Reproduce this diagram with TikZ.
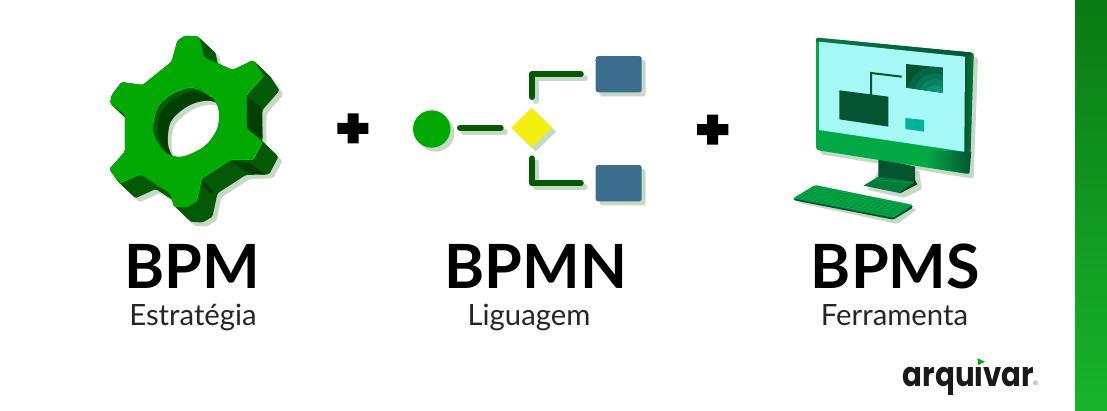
\documentclass[tikz,border=0pt]{standalone}
\usepackage{fontspec}
\setmainfont{Lato}
\newfontfamily\logofont{Poppins}
\usetikzlibrary{shapes.geometric,shadows,calc}
\definecolor{gface}{HTML}{02A902}
\definecolor{gedge}{HTML}{00D41C}
\definecolor{gdark}{HTML}{045A04}
\definecolor{gdeep}{HTML}{023F02}
\definecolor{pale}{HTML}{C6D9C6}
\definecolor{taskblue}{HTML}{3B6D8F}
\definecolor{gateyellow}{HTML}{F1F00E}
\definecolor{monmain}{HTML}{02A944}
\definecolor{monedge}{HTML}{077A3E}
\definecolor{mondark}{HTML}{045432}
\definecolor{screen}{HTML}{A5F8F6}
\definecolor{barA}{HTML}{0A7A14}
\definecolor{barB}{HTML}{17B42B}
\definecolor{tealO}{HTML}{056645}
\definecolor{tealA}{HTML}{067452}
\definecolor{tealB}{HTML}{088260}
\definecolor{tealC}{HTML}{0A9474}
\definecolor{tealD}{HTML}{00B39A}
\tikzset{
  title/.style={font=\bfseries\fontsize{61}{61}\selectfont,anchor=base,inner sep=0pt,text=black},
  subtitle/.style={font=\fontsize{29.3}{29.3}\selectfont,anchor=base,inner sep=0pt,text=black!85},
  softshadow/.style={general shadow={shadow xshift=4pt,shadow yshift=-4pt,fill=pale,opacity=1}},
  taskbox/.style={rectangle,rounded corners=2.5pt,fill=taskblue,minimum width=46pt,minimum height=36.3pt,inner sep=0pt,softshadow},
  gateway/.style={diamond,fill=gateyellow,minimum width=41pt,minimum height=40pt,inner sep=0pt,softshadow},
  startev/.style={circle,fill=gface,minimum size=37.4pt,inner sep=0pt,softshadow},
  conn/.style={line width=6pt,line cap=round,line join=round,draw=gdark},
  connshadow/.style={line width=6pt,line cap=round,line join=round,draw=pale,transform canvas={xshift=4pt,yshift=-4pt}},
  plusmark/.style={fill=black},
}
\def\gearpath{(262,62) -- (285,47) -- (328,50) -- (342,112) -- (428,150) -- (490,120) -- (521,167) -- (470,225) -- (470,325) -- (518,365) -- (490,418) -- (420,420) -- (335,475) -- (320,545) -- (290,563) -- (252,560) -- (240,520) -- (150,462) -- (88,490) -- (58,447) -- (105,395) -- (105,285) -- (60,250) -- (65,225) -- (95,186) -- (158,195) -- (245,125) -- cycle}
\def\holepath{plot[smooth cycle,tension=0.75] coordinates {(190,310) (215,245) (300,203) (365,232) (387,290) (365,355) (310,398) (250,408) (205,370)}}
\begin{document}
\begin{tikzpicture}[x=1pt,y=-1pt]
\useasboundingbox (0,0) rectangle (1107,410);
\fill[white] (0,0) rectangle (1107,410);
% side bar
\shade[top color=barA,bottom color=barB] (1075,0) rectangle (1107,410);

% gear
\begin{scope}[shift={(90,20)},x=0.3333pt,y=-0.3333pt]
  \begin{scope}[rounded corners=1.6pt]
    \foreach \i in {0,...,25} {
      \fill[pale,shift={({12+\i*1.9},{12+\i*1.8})}] \gearpath;
    }
    \foreach \i in {0,...,25} {
      \fill[gdark,shift={({\i*1.9},{\i*1.8})}] \gearpath;
    }
    \fill[gdeep] (473,232) -- (515,262) -- (518,360) -- (473,325) -- cycle;
    \fill[gdeep] (335,478) -- (372,515) -- (360,520) -- (335,495) -- cycle;
    \fill[gdeep] (420,420) -- (480,430) -- (530,465) -- (470,458) -- cycle;
  \end{scope}
  \begin{scope}
    \clip \holepath;
    \fill[gdark] (150,180) rectangle (420,430);
    \fill[gdeep,shift={(14,12)}] \holepath;
    \fill[pale,shift={(44,40)}] \holepath;
    \fill[white,shift={(55,52)}] \holepath;
  \end{scope}
  \fill[gface,even odd rule,rounded corners=1.6pt] \gearpath \holepath;
  \draw[gedge,line width=0.7pt] plot[smooth,tension=0.75] coordinates {(190,310) (215,245) (300,203) (365,232)};
  \draw[gedge,line width=0.6pt] (88,490) -- (150,462) (335,475) -- (420,420) -- (490,418) -- (518,365) (470,225) -- (521,167) (320,545) -- (335,475);
\end{scope}

% plus signs
\fill[plusmark] (347.5,113.3) rectangle (358.5,143.3) (337.3,122.8) rectangle (368.3,133.8);
\fill[plusmark] (707.2,114.7) rectangle (718.2,144.7) (697,124.2) rectangle (728.3,135.2);

% BPMN fragment
\node[startev] (start) at (431.7,129) {};
\node[gateway] (gate) at (531.7,127.7) {};
\node[taskbox] (taskA) at (618.7,74.2) {};
\node[taskbox] (taskB) at (618.7,183.2) {};
\coordinate (startOut) at (460,127.7);
\coordinate (gateIn) at (500.7,127.7);
\draw[connshadow] (startOut) -- (gateIn);
\draw[connshadow,shorten <=10.5pt,shorten >=14.7pt] (gate.north) |- (taskA.west);
\draw[connshadow,shorten <=10.5pt,shorten >=14.7pt] (gate.south) |- (taskB.west);
\draw[conn] (startOut) -- (gateIn);
\draw[conn,shorten <=10.5pt,shorten >=14.7pt] (gate.north) |- (taskA.west);
\draw[conn,shorten <=10.5pt,shorten >=14.7pt] (gate.south) |- (taskB.west);

% monitor
\begin{scope}[shift={(780,25)},x=0.3333pt,y=-0.3333pt]
  % shadows
  \begin{scope}[shift={(13,13)}]
    \fill[pale,rounded corners=3pt] (108,38) -- (581,83) -- (568,448) -- (108,375) -- cycle;
    \fill[pale] (295,400) -- (405,425) -- (412,480) -- (360,505) -- (250,482) -- cycle;
    \fill[pale,rounded corners=2pt] (40,520) -- (105,480) -- (398,540) -- (340,584) -- cycle;
  \end{scope}
  % stand
  \fill[mondark] (295,400) -- (405,425) -- (405,472) -- (295,458) -- cycle;
  \fill[gdeep] (360,505) -- (412,478) -- (405,465) -- (340,490) -- cycle;
  \fill[monedge] (250,482) -- (295,455) -- (405,470) -- (358,504) -- cycle;
  \draw[monmain,line width=0.5pt] (280,463) -- (400,475);
  % frame
  \fill[monmain,rounded corners=3pt] (108,38) -- (581,83) -- (568,448) -- (108,375) -- cycle;
  \shade[left color=monmain,right color=mondark] (440,375) -- (553,380) -- (574,380) -- (568,446) -- (440,426) -- cycle;
  \shade[left color=monedge,right color=mondark] (110,38) -- (578,83) -- (578,98) -- (108,50) -- cycle;
  \shade[left color=mondark,right color=monedge] (553,92) -- (581,86) -- (572,380) -- (552,385) -- cycle;
  % screen
  \fill[screen] (117,50) -- (555,95) -- (553,380) -- (117,315) -- cycle;
  \fill[mondark] (178,196) -- (325,215) -- (325,305) -- (178,283) -- cycle;
  \draw[mondark,line width=2pt] (273,210) -- (273,144) -- (365,155);
  \begin{scope}
    \clip (378,117) -- (489,128) -- (487,203) -- (378,188) -- cycle;
    \fill[mondark] (370,110) rectangle (495,210);
    \fill[tealO] (465,210) circle[radius=85];
    \fill[tealA] (465,210) circle[radius=65];
    \fill[tealB] (465,210) circle[radius=48];
    \fill[tealC] (465,210) circle[radius=30];
  \end{scope}
  \fill[tealD] (376,279) -- (432,285) -- (432,320) -- (376,312) -- cycle;
  % keyboard
  \fill[mondark,rounded corners=1.5pt] (40,520) -- (105,482) -- (398,540) -- (398,549) -- (340,584) -- (42,526) -- cycle;
  \fill[monmain,rounded corners=1.5pt] (40,520) -- (105,480) -- (398,540) -- (340,578) -- cycle;
  \foreach \t in {0.14,0.28,...,0.9} {
    \draw[monedge,line width=0.25pt] ($(40,520)!\t!(105,480)$) -- ($(340,578)!\t!(398,540)$);
  }
  \foreach \t in {0.05,0.10,...,0.97} {
    \draw[monedge,line width=0.25pt] ($(40,520)!\t!(340,578)$) -- ($(105,480)!\t!(398,540)$);
  }
\end{scope}

% titles
\node[title] (bpm) at (192.5,288) {BPM};
\node[title] (bpmn) at (536,288) {BPMN};
\node[title] (bpms) at (895.5,288) {BPMS};
\node[subtitle] (estr) at (193,325) {Estratégia};
\node[subtitle] (lig) at (529,325) {Liguagem};
\node[subtitle] (ferr) at (894.5,325) {Ferramenta};

% logo
\node[font=\logofont\bfseries\fontsize{34}{34}\selectfont,anchor=base,inner sep=0pt,xscale=0.86,text=black!90] (logo) at (968.4,386.7) {arquivar};
\fill[white] (970,350) rectangle (990,365.5);
\fill[gface] (977.3,358.3) -- (985,361.7) -- (978.3,365) -- cycle;
\node[font=\fontsize{6}{6}\selectfont,anchor=center,inner sep=0pt,text=black!60] (reg) at (1035.7,383) {®};
\end{tikzpicture}
\end{document}
